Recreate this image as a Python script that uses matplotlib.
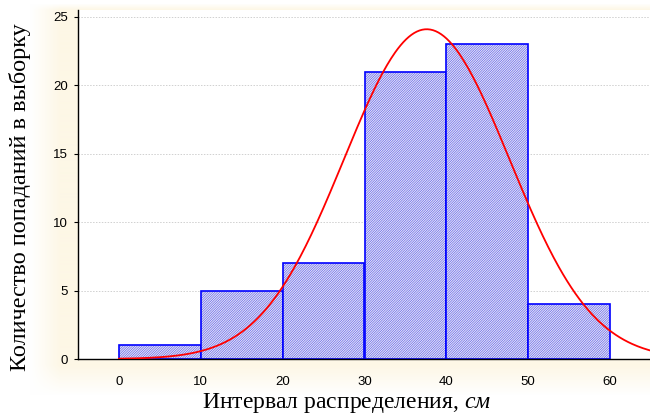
import numpy as np
import matplotlib
matplotlib.use("Agg")
import matplotlib.pyplot as plt

# histogram bins (cm) and counts
bin_left = [0, 10, 20, 30, 40, 50]
bin_width = 10
counts = [1, 5, 7, 21, 23, 4]

# fitted normal curve parameters
curve_mean = 37.6
curve_sd = 10.1
curve_start, curve_end = 0, 66

x_ticks = [0, 10, 20, 30, 40, 50, 60]
y_ticks = [0, 5, 10, 15, 20, 25]

plt.rcParams['hatch.linewidth'] = 0.25
plt.rcParams['mathtext.fontset'] = 'custom'
plt.rcParams['mathtext.it'] = 'Liberation Serif:italic'
plt.rcParams['mathtext.rm'] = 'Liberation Serif'

fig = plt.figure(figsize=(6.5, 4.15), dpi=100)
fig.patch.set_facecolor('white')

# soft cream background behind the plot
bg = fig.add_axes([0, 0, 1, 1], zorder=-10)
h, w = 415, 650
yy, xx = np.mgrid[0:h, 0:w]
def ramp(d, soft):
    return np.clip(d / soft, 0, 1)
a = ramp(xx - 30, 30) * ramp(395 - yy, 30) * ramp(yy - 4, 6)
img = np.ones((h, w, 3))
cream = np.array([253, 247, 230]) / 255.0
img = img * (1 - a[..., None]) + cream * a[..., None]
bg.imshow(img, aspect='auto', extent=[0, w, h, 0])
bg.axis('off')

ax = fig.add_axes([78 / 650, 56 / 415, 573 / 650, 349 / 415])
ax.set_facecolor('white')

ax.bar(bin_left, counts, width=bin_width, align='edge',
       facecolor='#e2e2ee', edgecolor='#0000ff', hatch='//////////////',
       linewidth=1.2, zorder=2)

xs = np.linspace(curve_start, curve_end, 400)
n_total = sum(counts)
ys = n_total * bin_width / (curve_sd * np.sqrt(2 * np.pi)) * np.exp(-0.5 * ((xs - curve_mean) / curve_sd) ** 2)
ax.plot(xs, ys, color='#ff0000', linewidth=1.3, zorder=3)

ax.set_xlim(-5, 65)
ax.set_ylim(0, 25.5)
ax.set_xticks(x_ticks)
ax.set_yticks(y_ticks)
ax.yaxis.grid(True, linestyle=(0, (1.5, 1.5)), color='#d0d0d0', linewidth=0.7, zorder=0)
ax.set_axisbelow(True)

ax.spines['top'].set_visible(False)
ax.spines['right'].set_color('#b0b0b0')
ax.spines['left'].set_linewidth(1.0)
ax.spines['bottom'].set_linewidth(1.0)
ax.tick_params(axis='x', length=0, pad=12, labelsize=9.5)
ax.tick_params(axis='y', length=3, pad=4, labelsize=9.5, right=True, direction='out')
for lbl in ax.get_xticklabels() + ax.get_yticklabels():
    lbl.set_family('Liberation Sans')

ax.set_ylabel('Количество попаданий в выборку', family='Liberation Serif',
              fontsize=17.5, va='center')
ax.yaxis.set_label_coords(-0.101, 0.463)
ax.set_xlabel('Интервал распределения, $\\mathit{см}$', family='Liberation Serif',
              fontsize=17, va='center')
ax.xaxis.set_label_coords(0.468, -0.125)

fig.savefig('out.png', dpi=100)
